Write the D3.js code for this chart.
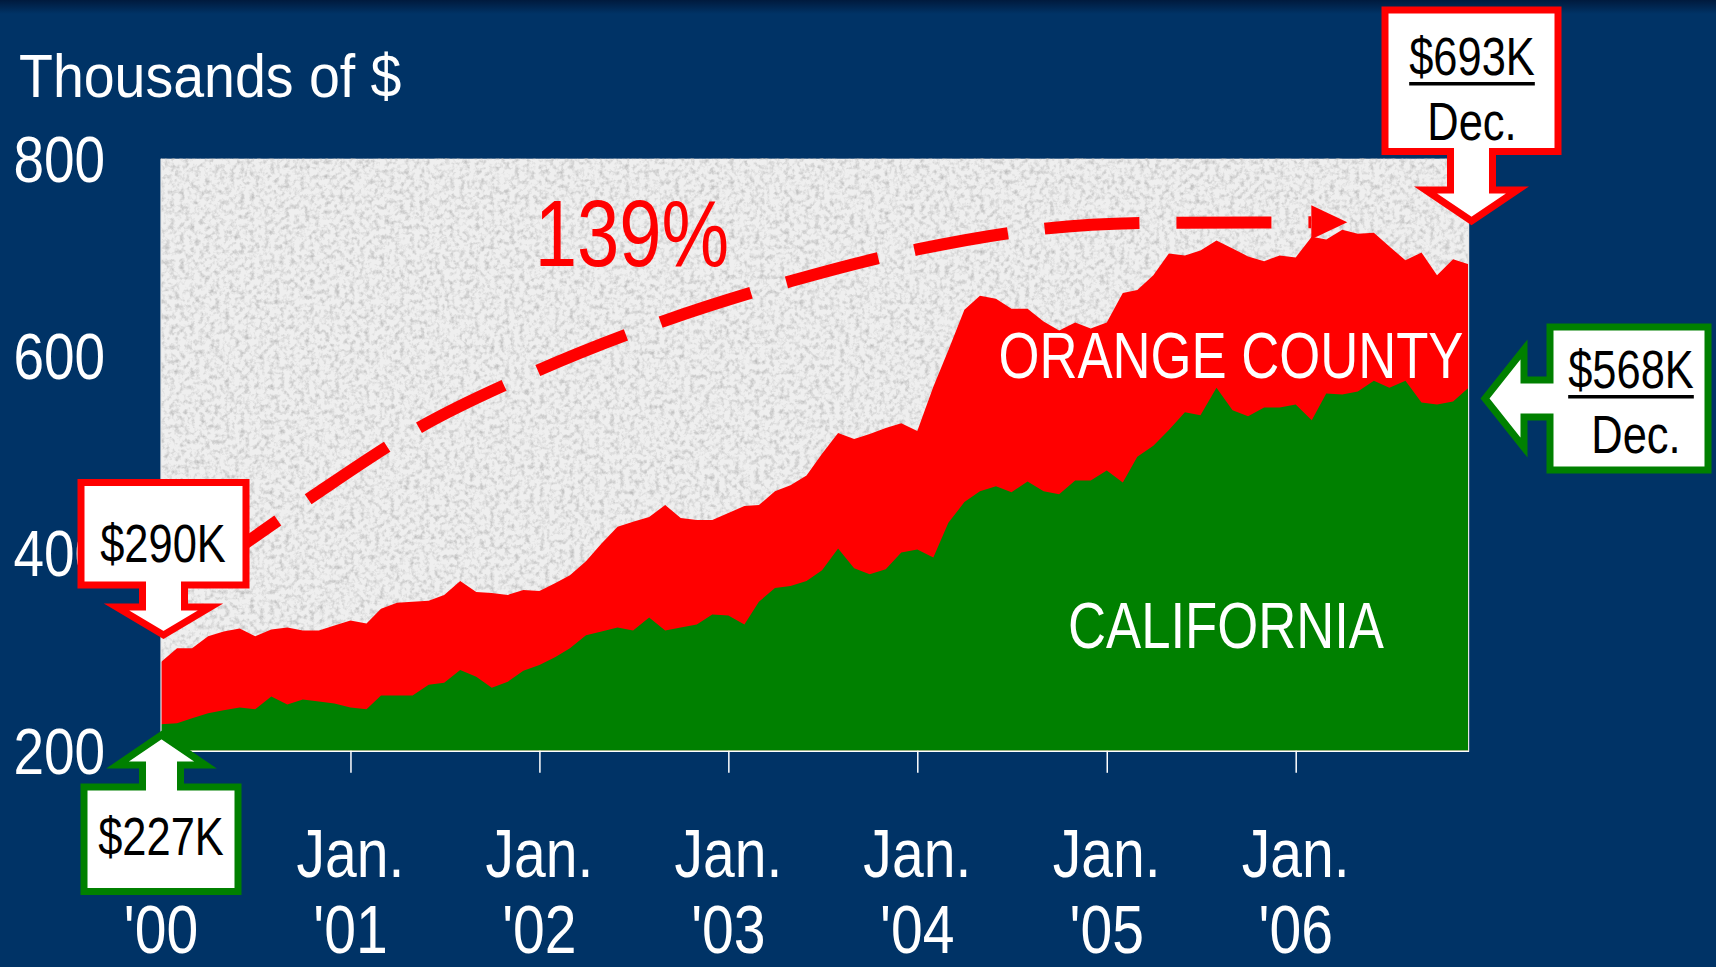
<!DOCTYPE html>
<html>
<head>
<meta charset="utf-8">
<script src="https://cdn.jsdelivr.net/npm/d3@7"></script>
<style>
  html, body { margin: 0; padding: 0; background: #003366; }
  svg { display: block; }
</style>
</head>
<body>
<svg id="chart" width="1716" height="967"></svg>
<script>
// monthly median home prices, thousands of $ (Jan 2000 - Dec 2006)
const months = d3.timeMonth.range(new Date(2000, 0, 1), new Date(2007, 0, 1));

const orangeCounty = [
  290, 304, 304, 316, 321, 324, 316, 323, 325, 322, 322, 327,
  332, 329, 344, 350, 351, 352, 358, 372, 361, 360, 358, 363,
  362, 370, 378, 392, 410, 427, 432, 437, 449, 436, 434, 434,
  441, 448, 449, 463, 469, 479, 501, 522, 516, 521, 527, 532,
  524, 569, 606, 647, 661, 658, 648, 648, 635, 626, 634, 628,
  634, 664, 667, 682, 704, 702, 707, 717, 709, 701, 696, 702,
  700, 721, 718, 728, 724, 725, 711, 697, 705, 682, 698, 693
];

const california = [
  227, 228, 233, 238, 241, 244, 242, 255, 247, 252, 250, 248,
  244, 242, 256, 256, 256, 267, 269, 282, 275, 264, 270, 281,
  287, 295, 304, 317, 321, 325, 322, 335, 322, 325, 328, 338,
  337, 328, 351, 365, 367, 372, 383, 405, 385, 379, 384, 401,
  404, 396, 431, 452, 463, 468, 462, 473, 463, 460, 474, 474,
  484, 472, 498, 509, 525, 543, 540, 568, 545, 539, 548, 548,
  551, 535, 562, 561, 564, 575, 568, 575, 553, 551, 554, 568
];

const yTicks = [200, 400, 600, 800];
const tickYears = [2001, 2002, 2003, 2004, 2005, 2006];
const yearLabels = ["'00", "'01", "'02", "'03", "'04", "'05", "'06"];
const yearStarts = [2000, 2001, 2002, 2003, 2004, 2005, 2006];

// trend arrow path, in (month index, thousands)
const trendMonths = [3.5, 5.5, 10, 16, 24, 32, 40, 48, 56, 63, 73];
const trendValues = [390, 412, 462, 524, 586, 636, 676, 708, 729, 735, 735.5];
const trendTip = [75.3, 735.5];

function drawChart() {
  const FONT = "'Liberation Sans', Arial, sans-serif";
  const navy = "#003366", red = "#ff0000", green = "#008000";

  let svg = d3.select("#chart");
  let plotLeft = 161, plotRight = 1468.6, plotTop = 158.7, plotBottom = 750.8;

  let x = d3.scaleTime()
    .domain([months[0], months[months.length - 1]])
    .range([plotLeft, plotRight]);
  let y = d3.scaleLinear()
    .domain([200, 800])
    .range([plotBottom, plotTop]);
  let xm = d3.scaleLinear()
    .domain([0, months.length - 1])
    .range([plotLeft, plotRight]);

  // condensed text: Liberation Sans squeezed horizontally
  function label(parent, tx, ty, str, size, fill, anchor, sx) {
    return parent.append("text")
      .attr("transform", "translate(" + tx + "," + ty + ") scale(" + (sx || 0.82) + ",1)")
      .attr("text-anchor", anchor || "middle")
      .attr("font-family", FONT)
      .attr("font-size", size)
      .attr("fill", fill)
      .text(str);
  }

  let defs = svg.append("defs");

  let topGrad = defs.append("linearGradient").attr("id", "topGrad")
    .attr("x1", 0).attr("y1", 0).attr("x2", 0).attr("y2", 1);
  topGrad.append("stop").attr("offset", "0%").attr("stop-color", "#001a3d");
  topGrad.append("stop").attr("offset", "100%").attr("stop-color", navy);

  let grain = defs.append("filter").attr("id", "granite")
    .attr("x", 0).attr("y", 0).attr("width", "100%").attr("height", "100%")
    .attr("color-interpolation-filters", "sRGB");
  grain.append("feTurbulence")
    .attr("type", "fractalNoise")
    .attr("baseFrequency", 0.2)
    .attr("numOctaves", 3)
    .attr("seed", 4);
  grain.append("feColorMatrix")
    .attr("type", "matrix")
    .attr("values", "0 0 0 0 0.7  0 0 0 0 0.7  0 0 0 0 0.7  1.8 0 0 0 -0.8");

  // page background
  svg.append("rect").attr("width", 1716).attr("height", 967).attr("fill", navy);
  svg.append("rect").attr("width", 1716).attr("height", 14).attr("fill", "url(#topGrad)");

  // plot background (granite)
  svg.append("rect")
    .attr("x", plotLeft).attr("y", plotTop)
    .attr("width", plotRight - plotLeft).attr("height", plotBottom - plotTop)
    .attr("fill", "#efefef");
  svg.append("rect")
    .attr("x", plotLeft).attr("y", plotTop)
    .attr("width", plotRight - plotLeft).attr("height", plotBottom - plotTop)
    .attr("fill", "#fff")
    .attr("filter", "url(#granite)");

  // areas
  let rows = months.map((m, i) => ({ date: m, oc: orangeCounty[i], ca: california[i] }));

  let ocArea = d3.area()
    .x(d => x(d.date))
    .y0(y(200))
    .y1(d => y(d.oc));
  let caArea = d3.area()
    .x(d => x(d.date))
    .y0(y(200))
    .y1(d => y(d.ca));

  svg.append("path").datum(rows).attr("d", ocArea).attr("fill", red);
  svg.append("path").datum(rows).attr("d", caArea).attr("fill", green);

  // plot side edges
  svg.append("line")
    .attr("x1", plotLeft).attr("x2", plotLeft).attr("y1", plotTop).attr("y2", plotBottom)
    .attr("stroke", "#e6e6e6").attr("stroke-width", 1.2);
  svg.append("line")
    .attr("x1", plotRight).attr("x2", plotRight).attr("y1", plotTop).attr("y2", plotBottom)
    .attr("stroke", "#e6e6e6").attr("stroke-width", 1.2);

  // x axis
  let xAxis = d3.axisBottom(x)
    .tickValues(tickYears.map(yr => new Date(yr, 0, 1)))
    .tickSize(22)
    .tickSizeOuter(0)
    .tickFormat("");
  let xg = svg.append("g")
    .attr("transform", "translate(0," + plotBottom + ")")
    .call(xAxis);
  xg.select(".domain").attr("stroke", "#ffffff").attr("stroke-width", 1.5);
  xg.selectAll(".tick line").attr("stroke", "#ffffff").attr("stroke-width", 1.5);

  let xl = svg.append("g");
  yearStarts.forEach((yr, i) => {
    let tx = x(new Date(yr, 0, 1));
    if (i > 0) label(xl, tx, 877, "Jan.", 68, "#ffffff", "middle", 0.84);
    label(xl, tx, 953, yearLabels[i], 68, "#ffffff", "middle", 0.84);
  });

  // y axis labels
  let yl = svg.append("g");
  yTicks.forEach(v => {
    label(yl, 105, y(v) + 23, v, 65, "#ffffff", "end", 0.845);
  });

  label(svg, 19, 97, "Thousands of $", 62, "#ffffff", "start", 0.895);

  // dashed growth arrow
  let trendLine = d3.line()
    .x(d => xm(d[0]))
    .y(d => y(d[1]))
    .curve(d3.curveMonotoneX);
  svg.append("path")
    .datum(trendMonths.map((m, i) => [m, trendValues[i]]))
    .attr("d", trendLine)
    .attr("fill", "none")
    .attr("stroke", red)
    .attr("stroke-width", 12)
    .attr("stroke-dasharray", "95 37")
    .attr("stroke-dashoffset", 20);
  let tipX = xm(trendTip[0]), tipY = y(trendTip[1]);
  svg.append("path")
    .attr("d", "M" + tipX + "," + tipY + "L" + (tipX - 36) + "," + (tipY - 17) +
      "L" + (tipX - 36) + "," + (tipY + 17) + "Z")
    .attr("fill", red);

  label(svg, 632, 266, "139%", 95, red, "middle", 0.8);

  // series labels
  label(svg, 1231, 378, "ORANGE COUNTY", 65, "#ffffff", "middle", 0.81);
  label(svg, 1226, 648, "CALIFORNIA", 65, "#ffffff", "middle", 0.81);

  // callout boxes with arrows
  function callout(pts, color) {
    svg.append("path")
      .attr("d", "M" + pts.map(p => p.join(",")).join("L") + "Z")
      .attr("fill", "#ffffff")
      .attr("stroke", color)
      .attr("stroke-width", 7)
      .attr("stroke-linejoin", "miter")
      .attr("stroke-miterlimit", 10);
  }
  function downPts(x0, x1, y0, y1, cx, stem, headY, head, tip) {
    return [[x0, y0], [x1, y0], [x1, y1], [cx + stem, y1], [cx + stem, headY], [cx + head, headY],
      [cx, tip], [cx - head, headY], [cx - stem, headY], [cx - stem, y1], [x0, y1]];
  }
  function upPts(x0, x1, y0, y1, cx, stem, headY, head, tip) {
    return [[x0, y1], [x1, y1], [x1, y0], [cx + stem, y0], [cx + stem, headY], [cx + head, headY],
      [cx, tip], [cx - head, headY], [cx - stem, headY], [cx - stem, y0], [x0, y0]];
  }
  function leftPts(x0, x1, y0, y1, cy, stem, headX, head, tip) {
    return [[x0, y0], [x1, y0], [x1, y1], [x0, y1], [x0, cy + stem], [headX, cy + stem], [headX, cy + head],
      [tip, cy], [headX, cy - head], [headX, cy - stem], [x0, cy - stem]];
  }
  function boxText(tx, ty, str, underline) {
    let t = label(svg, tx, ty, str, 53, "#000000", "middle", 0.82);
    if (underline) {
      let w = t.node().getComputedTextLength() * 0.82;
      svg.append("rect")
        .attr("x", tx - w / 2).attr("y", ty + 7)
        .attr("width", w).attr("height", 3.5)
        .attr("fill", "#000000");
    }
  }

  callout(downPts(1385, 1558, 10, 151.5, 1471.5, 21, 190, 46, 221), red);
  boxText(1472, 75, "$" + orangeCounty[orangeCounty.length - 1] + "K", true);
  boxText(1472, 140, "Dec.", false);

  callout(leftPts(1550, 1708, 327, 470, 398.5, 18.5, 1524, 49, 1485), green);
  boxText(1631, 388, "$" + california[california.length - 1] + "K", true);
  boxText(1636, 453, "Dec.", false);

  callout(downPts(81, 246, 482.5, 585, 163.5, 21, 607, 47, 635), red);
  boxText(163, 562, "$" + orangeCounty[0] + "K", false);

  callout(upPts(84, 238, 787, 891.5, 161.5, 19, 765, 44, 735), green);
  boxText(161, 855, "$" + california[0] + "K", false);
}

drawChart();
</script>
</body>
</html>
